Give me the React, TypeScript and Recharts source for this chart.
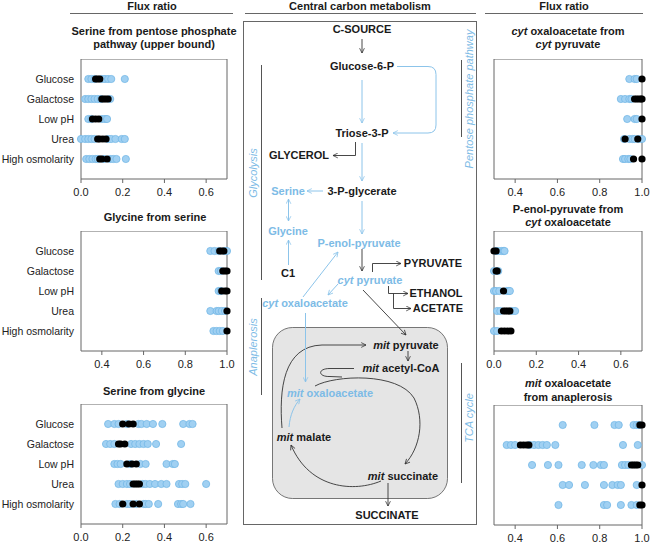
import React from 'react';
import { ScatterChart, Scatter, XAxis, YAxis, ReferenceArea } from 'recharts';

const conditions = ['Glucose', 'Galactose', 'Low pH', 'Urea', 'High osmolarity'];
const ticksLow = [0, 0.2, 0.4, 0.6];
const ticksHigh = [0.4, 0.6, 0.8, 1.0];
const domainLow: [number, number] = [0, 0.7];
const domainHigh: [number, number] = [0.3, 1.0];

// Serine from pentose phosphate pathway (upper bound)
const serPppBlue = [
  [0.035, 0.05, 0.065, 0.10, 0.115, 0.13, 0.145, 0.21],
  [0.02, 0.035, 0.05, 0.065, 0.08, 0.095, 0.14],
  [0.035, 0.05, 0.10, 0.115, 0.125],
  [0.0, 0.02, 0.035, 0.05, 0.065, 0.13, 0.145, 0.165, 0.195, 0.21],
  [0.025, 0.04, 0.055, 0.07, 0.08, 0.11, 0.14, 0.155, 0.17, 0.215],
];
const serPppBlack = [
  [0.07, 0.08, 0.09],
  [0.10, 0.11, 0.12, 0.13],
  [0.055, 0.07, 0.085],
  [0.08, 0.09, 0.105, 0.12],
  [0.09, 0.1, 0.125],
];

// Glycine from serine
const glyFromSerBlue = [
  [0.92, 0.94, 0.96, 0.99, 1.0],
  [0.96, 0.97],
  [0.96, 0.97],
  [0.92, 0.95, 0.96, 0.975, 0.99],
  [0.935, 0.95, 0.965, 0.98],
];
const glyFromSerBlack = [
  [0.965, 0.975, 0.985],
  [0.98, 0.99, 1.0],
  [0.975, 0.99, 1.0],
  [1.0],
  [1.0],
];

// Serine from glycine
const serFromGlyBlue = [
  [0.13, 0.16, 0.18, 0.22, 0.275, 0.29, 0.315, 0.345, 0.39, 0.49, 0.52, 0.535],
  [0.12, 0.14, 0.16, 0.24, 0.26, 0.28, 0.3, 0.32, 0.36, 0.48],
  [0.16, 0.175, 0.19, 0.235, 0.285, 0.31, 0.41, 0.44, 0.45],
  [0.18, 0.2, 0.22, 0.235, 0.295, 0.31, 0.33, 0.355, 0.385, 0.41, 0.47, 0.485, 0.5, 0.6],
  [0.165, 0.185, 0.22, 0.235, 0.265, 0.3, 0.31, 0.325, 0.37, 0.465, 0.48, 0.49, 0.525],
];
const serFromGlyBlack = [
  [0.2, 0.23, 0.25],
  [0.18, 0.19, 0.21],
  [0.22, 0.245, 0.265],
  [0.25, 0.26, 0.27, 0.28],
  [0.2, 0.25, 0.28],
];

// cyt oxaloacetate from cyt pyruvate
const oaaFromPyrBlue = [
  [0.94, 0.965, 0.975],
  [0.9, 0.92, 0.94, 0.95],
  [0.93, 0.965, 0.975],
  [0.915, 0.94, 0.955, 0.965, 0.985, 1.0],
  [0.91, 0.92, 0.935, 0.945],
];
const oaaFromPyrBlack = [
  [1.0],
  [0.965, 0.975, 0.985, 0.995, 1.0],
  [1.0],
  [0.92, 0.98],
  [0.96, 1.0],
];

// P-enol-pyruvate from cyt oxaloacetate
const pepFromOaaBlue = [
  [0.01, 0.02, 0.035, 0.045, 0.05],
  [0.0, 0.02],
  [0.0, 0.01, 0.025, 0.06, 0.07, 0.075],
  [0.015, 0.03, 0.085, 0.1],
  [0.0, 0.015],
];
const pepFromOaaBlack = [
  [0.0, 0.01],
  [0.01, 0.015],
  [0.045],
  [0.045, 0.055, 0.065, 0.075],
  [0.035, 0.05, 0.065, 0.08],
];

// mit oxaloacetate from anaplerosis
const mitOaaBlue = [
  [0.625, 0.775, 0.87, 0.89, 0.96, 0.975, 0.985],
  [0.36, 0.38, 0.4, 0.47, 0.49, 0.51, 0.53, 0.55, 0.59, 0.91, 0.98],
  [0.48, 0.555, 0.605, 0.715, 0.77, 0.805, 0.82, 0.905, 0.92, 0.935, 1.0],
  [0.625, 0.655, 0.73, 0.82, 0.86, 0.885, 0.9, 0.975],
  [0.605, 0.82, 0.835, 0.9, 0.95, 0.975],
];
const mitOaaBlack = [
  [0.99, 1.0],
  [0.425, 0.44, 0.455, 0.465],
  [0.95, 0.96, 0.97, 0.98],
  [1.0],
  [0.99, 1.0],
];

const toPoints = (rows: number[][]) =>
  rows.flatMap((vals, i) => vals.map((v) => ({ x: v, y: i + 1 })));

const FONT = "'Liberation Sans', Arial, Helvetica, sans-serif";
const TXT_BLUE = '#7dbbe6';
const LINE_BLUE = '#8cc4ea';
const INK = '#1a1a1a';

const blueShape = (p: any) => (
  <circle cx={p.cx} cy={p.cy} r={3.6} fill="#a0d0f2" stroke="#74b7e6" strokeWidth={0.8} />
);
const blackShape = (p: any) => <circle cx={p.cx} cy={p.cy} r={3.6} fill="#000" />;

const CategoryTick = (p: any) => (
  <text
    x={p.x + 1}
    y={p.y}
    textAnchor="end"
    dominantBaseline="central"
    fontSize={10.5}
    fill="#222"
    fontFamily={FONT}
  >
    {conditions[p.payload.value - 1] ?? ''}
  </text>
);

function DotPlot(props: {
  top: number;
  right?: boolean;
  domain: [number, number];
  ticks: number[];
  blue: number[][];
  black: number[][];
}) {
  const { top, right, domain, ticks, blue, black } = props;
  const yW = right ? 0 : 81;
  const padL = right ? 12 : 0;
  const plotW = right ? 148 : 146;
  return (
    <div style={{ position: 'absolute', left: right ? 494 - padL : 0, top }}>
      <ScatterChart
        width={padL + yW + plotW + 10}
        height={150}
        margin={{ top: 0, right: 10, bottom: 0, left: padL }}
      >
        <XAxis
          type="number"
          dataKey="x"
          domain={domain}
          ticks={ticks}
          interval={0}
          tickFormatter={(v: number) => v.toFixed(1)}
          tick={{ fontSize: 11, fill: '#222' }}
          tickSize={4}
          tickMargin={5}
          axisLine={false}
          tickLine={{ stroke: '#666' }}
          height={30}
        />
        <YAxis
          type="number"
          dataKey="y"
          domain={[0, 6]}
          ticks={[1, 2, 3, 4, 5]}
          interval={0}
          reversed
          hide={!!right}
          width={yW}
          axisLine={false}
          tickLine={false}
          tick={CategoryTick}
        />
        <ReferenceArea
          x1={domain[0]}
          x2={domain[1]}
          y1={0}
          y2={6}
          fill="none"
          fillOpacity={0}
          stroke="#666"
          strokeWidth={1}
        />
        <Scatter data={toPoints(blue)} shape={blueShape} isAnimationActive={false} />
        <Scatter data={toPoints(black)} shape={blackShape} isAnimationActive={false} />
      </ScatterChart>
    </div>
  );
}

function T(props: {
  x: number;
  y: number;
  children: React.ReactNode;
  color?: string;
  bold?: boolean;
  italic?: boolean;
  size?: number;
  anchor?: 'start' | 'middle' | 'end';
  rotate?: boolean;
}) {
  const { x, y, children, color = INK, bold = true, italic = false, size = 11, anchor = 'middle', rotate } = props;
  return (
    <text
      x={x}
      y={y}
      fill={color}
      fontSize={size}
      fontWeight={bold ? 'bold' : 'normal'}
      fontStyle={italic ? 'italic' : 'normal'}
      textAnchor={anchor}
      dominantBaseline="central"
      transform={rotate ? `rotate(-90 ${x} ${y})` : undefined}
    >
      {children}
    </text>
  );
}

const I = (s: string) => <tspan fontStyle="italic">{s}</tspan>;

function Diagram() {
  const bk = { stroke: '#333', strokeWidth: 0.9, fill: 'none', markerEnd: 'url(#ak)' } as any;
  const bl = { stroke: LINE_BLUE, strokeWidth: 1, fill: 'none', markerEnd: 'url(#ab)' } as any;
  return (
    <svg width={650} height={543} style={{ position: 'absolute', left: 0, top: 0 }} fontFamily={FONT}>
      <defs>
        <marker id="ak" viewBox="0 0 10 10" refX="9" refY="5" markerWidth="6" markerHeight="6" orient="auto-start-reverse" markerUnits="userSpaceOnUse">
          <path d="M1,1 L9,5 L1,9" fill="none" stroke="#333" strokeWidth="1.3" />
        </marker>
        <marker id="ab" viewBox="0 0 10 10" refX="9" refY="5" markerWidth="6" markerHeight="6" orient="auto-start-reverse" markerUnits="userSpaceOnUse">
          <path d="M1,1 L9,5 L1,9" fill="none" stroke={LINE_BLUE} strokeWidth="1.3" />
        </marker>
      </defs>

      {/* headers */}
      <T x={152} y={6}>Flux ratio</T>
      <line x1={70} x2={233} y1={13.5} y2={13.5} stroke="#666" strokeWidth={1} />
      <T x={360} y={6}>Central carbon metabolism</T>
      <line x1={245} x2={476} y1={13.5} y2={13.5} stroke="#666" strokeWidth={1} />
      <T x={564} y={6}>Flux ratio</T>
      <line x1={485} x2={643} y1={13.5} y2={13.5} stroke="#666" strokeWidth={1} />

      {/* chart titles */}
      <T x={154} y={31}>Serine from pentose phosphate</T>
      <T x={154} y={44}>pathway (upper bound)</T>
      <T x={155} y={217}>Glycine from serine</T>
      <T x={154} y={391}>Serine from glycine</T>
      <T x={568} y={31}>{I('cyt')} oxaloacetate from</T>
      <T x={568} y={44}>{I('cyt')} pyruvate</T>
      <T x={568} y={209}>P-enol-pyruvate from</T>
      <T x={568} y={222}>{I('cyt')} oxaloacetate</T>
      <T x={568} y={383}>{I('mit')} oxaloacetate</T>
      <T x={568} y={397}>from anaplerosis</T>

      {/* central panel */}
      <rect x={243.5} y={21.5} width={233} height={503} fill="none" stroke="#666" strokeWidth={1} />
      <rect x={272.5} y={327.5} width={175} height={171} rx={20} fill="#e5e5e5" stroke="#555" strokeWidth={0.8} />

      {/* side labels */}
      <line x1={261.5} x2={261.5} y1={65} y2={280} stroke="#555" strokeWidth={1} />
      <T x={253} y={173} color={TXT_BLUE} bold={false} italic rotate>Glycolysis</T>
      <line x1={261.5} x2={261.5} y1={298} y2={395} stroke="#555" strokeWidth={1} />
      <T x={253} y={347} color={TXT_BLUE} bold={false} italic rotate>Anaplerosis</T>
      <line x1={461.5} x2={461.5} y1={60} y2={137} stroke="#555" strokeWidth={1} />
      <T x={469} y={99} color={TXT_BLUE} bold={false} italic rotate>Pentose phosphate pathway</T>
      <line x1={461.5} x2={461.5} y1={363} y2={483} stroke="#555" strokeWidth={1} />
      <T x={469} y={418} color={TXT_BLUE} bold={false} italic rotate>TCA cycle</T>

      {/* metabolites */}
      <T x={362} y={29}>C-SOURCE</T>
      <T x={362} y={66}>Glucose-6-P</T>
      <T x={362} y={133}>Triose-3-P</T>
      <T x={299} y={155}>GLYCEROL</T>
      <T x={362} y={191}>3-P-glycerate</T>
      <T x={288} y={191} color={TXT_BLUE}>Serine</T>
      <T x={288} y={231} color={TXT_BLUE}>Glycine</T>
      <T x={288} y={273}>C1</T>
      <T x={359} y={243} color={TXT_BLUE}>P-enol-pyruvate</T>
      <T x={370} y={280} color={TXT_BLUE}>{I('cyt')} pyruvate</T>
      <T x={305} y={303} color={TXT_BLUE}>{I('cyt')} oxaloacetate</T>
      <T x={433} y={263}>PYRUVATE</T>
      <T x={436} y={293}>ETHANOL</T>
      <T x={438} y={308}>ACETATE</T>
      <T x={406} y={345}>{I('mit')} pyruvate</T>
      <T x={401} y={368}>{I('mit')} acetyl-CoA</T>
      <T x={330} y={393} color={TXT_BLUE}>{I('mit')} oxaloacetate</T>
      <T x={304} y={437}>{I('mit')} malate</T>
      <T x={403} y={476}>{I('mit')} succinate</T>
      <T x={387} y={515}>SUCCINATE</T>

      {/* black arrows */}
      <path d="M362 39 L362 53" {...bk} />
      <path d="M355.5 142 L355.5 155.5 L333 155.5" {...bk} />
      <path d="M362 249 L362 271" {...bk} />
      <path d="M372.5 272 L372.5 263.5 L401 263.5" {...bk} />
      <path d="M388.5 286 L388.5 293.5 L408 293.5" {...bk} />
      <path d="M393.5 293.5 L393.5 308.5 L411 308.5" {...bk} />
      <path d="M363 290 L406 335" {...bk} />
      <path d="M408 351 L408 361" {...bk} />
      <path d="M388 483 L388 506" {...bk} />
      <path d="M282 428 C279 390 283 346 322 345 L366 345" {...bk} />
      <path d="M354 368.5 L330 368.5 C317 368.5 318 377 330 376.5 L342 377" stroke="#333" strokeWidth={0.9} fill="none" />
      <path d="M315 386 C335 375 398 372 414 398 C425 420 420 448 405 464" {...bk} />
      <path d="M381 481 C355 492 310 490 291 445" {...bk} />

      {/* blue arrows */}
      <path d="M362 80 L362 123" {...bl} />
      <path d="M362 143 L362 181" {...bl} />
      <path d="M397 66.5 L428 66.5 Q436 66.5 436 74.5 L436 125 Q436 133 428 133 L393 133" {...bl} />
      <path d="M323 191 L307 191" {...bl} />
      <path d="M288.5 199 L288.5 221" {...bl} markerStart="url(#ab)" />
      <path d="M288.5 265 L288.5 240" {...bl} />
      <path d="M362 201 L362 234" {...bl} />
      <path d="M338 284 L328 295" {...bl} />
      <path d="M303 297 L338 252" {...bl} />
      <path d="M305.5 313 L305.5 382" {...bl} />
      <path d="M289 427 C290 415 294 406 300 399" {...bl} />
    </svg>
  );
}

export default function App() {
  return (
    <div
      style={{
        position: 'absolute',
        left: 0,
        top: 0,
        width: 650,
        height: 543,
        background: '#fff',
        fontFamily: FONT,
        overflow: 'hidden',
      }}
    >
      <Diagram />
      <DotPlot top={59} domain={domainLow} ticks={ticksLow} blue={serPppBlue} black={serPppBlack} />
      <DotPlot top={231} domain={domainHigh} ticks={ticksHigh} blue={glyFromSerBlue} black={glyFromSerBlack} />
      <DotPlot top={404} domain={domainLow} ticks={ticksLow} blue={serFromGlyBlue} black={serFromGlyBlack} />
      <DotPlot top={59} right domain={domainHigh} ticks={ticksHigh} blue={oaaFromPyrBlue} black={oaaFromPyrBlack} />
      <DotPlot top={231} right domain={domainLow} ticks={ticksLow} blue={pepFromOaaBlue} black={pepFromOaaBlack} />
      <DotPlot top={405} right domain={domainHigh} ticks={ticksHigh} blue={mitOaaBlue} black={mitOaaBlack} />
    </div>
  );
}
